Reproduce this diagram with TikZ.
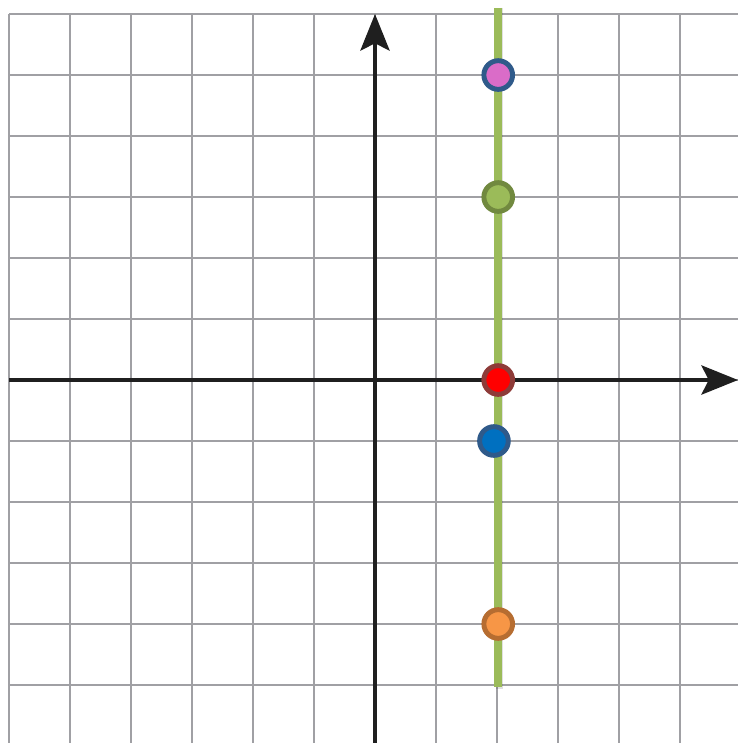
\documentclass[tikz,border=0pt]{standalone}
\usetikzlibrary{arrows.meta}

\definecolor{gridgray}{HTML}{A0A0A4}
\definecolor{linegreen}{HTML}{9BBB59}
\definecolor{ptpink}{HTML}{DA6CC8}
\definecolor{ptblue}{HTML}{0070C0}
\definecolor{ptorange}{HTML}{F79646}
\definecolor{rimblue}{HTML}{2F5A8A}
\definecolor{rimgreen}{HTML}{71893F}
\definecolor{rimred}{HTML}{8E3B38}
\definecolor{rimorange}{HTML}{B66D31}

\tikzset{
    gridline/.style={gridgray, line width=1pt},
    axis/.style={-{Stealth[length=0.6cm, width=0.48cm, inset=0.12cm]}, line width=1.5pt, black!88},
    pt/.style={circle, inner sep=0pt, minimum size=0.47cm, line width=2.3pt}
}

\begin{document}
\begin{tikzpicture}
    \useasboundingbox (-6.148, -5.951) rectangle (5.951, 6.230);

    % 网格
    \draw[gridline] (-6, -5.951) grid (5.951, 6);

    % 坐标轴
    \draw[axis] (-6, 0) -- (5.951, 0);
    \draw[axis] (0, -5.951) -- (0, 6);

    % 直线 x = 2
    \draw[line width=3.6pt, black, opacity=0.12] (2.04, 6.1) -- (2.04, -5.06);
    \draw[line width=3.6pt, linegreen] (2.02, 6.1) -- (2.02, -5.03);

    % 点
    \node[pt, fill=ptpink, draw=rimblue] (pink) at (2.02, 5) {};
    \node[pt, fill=linegreen, draw=rimgreen] (green) at (2.02, 3) {};
    \node[pt, fill=red, draw=rimred] (red) at (2.02, 0) {};
    \node[pt, fill=ptblue, draw=rimblue] (blue) at (1.95, -1) {};
    \node[pt, fill=ptorange, draw=rimorange] (orange) at (2.02, -4) {};
\end{tikzpicture}
\end{document}
